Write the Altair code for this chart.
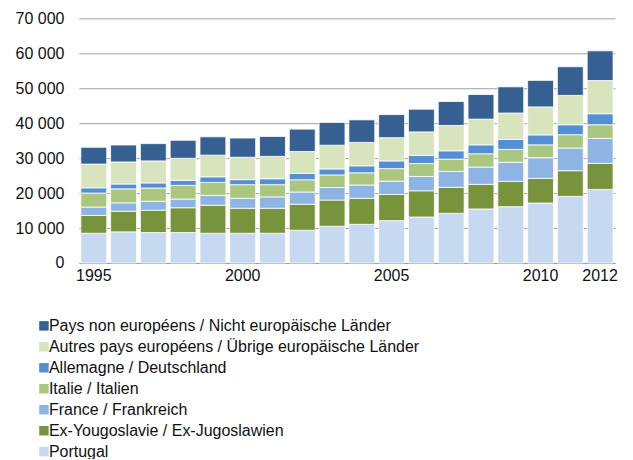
import altair as alt
import pandas as pd

years = [str(y) for y in range(1995, 2013)]
series_names = [
    "Pays non européens / Nicht europäische Länder",
    "Autres pays européens / Übrige europäische Länder",
    "Allemagne / Deutschland",
    "Italie / Italien",
    "France / Frankreich",
    "Ex-Yougoslavie / Ex-Jugoslawien",
    "Portugal",
]
colors = ["#376092", "#D7E4BD", "#558ED5", "#ABC67E", "#8EB4E3", "#77933C", "#C6D9F1"]

portugal = [8500, 8900, 8700, 8700, 8500, 8500, 8500, 9350, 10500, 11050, 12100, 13150, 14200, 15450, 16100, 17150, 19050, 21050]
ex_yougo = [5100, 5900, 6400, 7100, 8000, 7150, 7150, 7450, 7500, 7450, 7500, 7500, 7450, 7050, 7250, 7050, 7350, 7450]
france = [2400, 2400, 2550, 2500, 2850, 2850, 3250, 3500, 3600, 3800, 3800, 4100, 4550, 4950, 5450, 5900, 6500, 7150]
italie = [4000, 4000, 3800, 3900, 3700, 3900, 3500, 3500, 3600, 3500, 3600, 3700, 3500, 3800, 3700, 3700, 3800, 3900]
allemagne = [1500, 1400, 1450, 1450, 1600, 1450, 1700, 1800, 1700, 2000, 2200, 2300, 2400, 2550, 2850, 2850, 2850, 3150]
autres = [6800, 6300, 6300, 6300, 6200, 6400, 6400, 6300, 6800, 6700, 6650, 6750, 7250, 7350, 7550, 8000, 8400, 9500]
pays_non = [4800, 4850, 4950, 5150, 5250, 5500, 5700, 6400, 6500, 6450, 6600, 6500, 6850, 7050, 7500, 7600, 8200, 8500]

stack_series = [portugal, ex_yougo, france, italie, allemagne, autres, pays_non]
stack_names = list(reversed(series_names))

rows = []
for k, (name, vals) in enumerate(zip(stack_names, stack_series)):
    for y, v in zip(years, vals):
        rows.append({"year": y, "series": name, "value": v, "ord": k})
df = pd.DataFrame(rows)

font = "Liberation Sans"

chart = alt.Chart(df).mark_bar(stroke="white", strokeWidth=0.8).encode(
    x=alt.X("year:N", title=None,
            scale=alt.Scale(paddingInner=0.13, paddingOuter=0.065),
            axis=alt.Axis(values=["1995", "2000", "2005", "2010", "2012"], labelAngle=0,
                          ticks=False, domain=True, domainColor="#A0A0A0",
                          labelFontSize=16, labelPadding=5, labelColor="#111111", labelFont=font)),
    y=alt.Y("value:Q", title=None,
            scale=alt.Scale(domain=[0, 70000]),
            axis=alt.Axis(values=list(range(0, 70001, 10000)), ticks=False, domain=False,
                          grid=True, gridColor="#A0A0A0", gridWidth=1,
                          labelExpr="replace(format(datum.value, ','), ',', ' ')",
                          labelFontSize=16, labelPadding=15, labelColor="#111111", labelFont=font)),
    color=alt.Color("series:N", title=None,
                    scale=alt.Scale(domain=series_names, range=colors),
                    legend=alt.Legend(orient="none", legendX=-43, legendY=300, direction="vertical",
                                      symbolType="square", symbolSize=90, symbolStrokeWidth=0,
                                      labelFontSize=16, labelFont=font, labelColor="#111111",
                                      rowPadding=5, labelOffset=alt.ExprRef(expr="-3"),
                                      padding=0, labelLimit=600)),
    order=alt.Order("ord:Q", sort="ascending"),
).properties(
    width=537, height=245,
    autosize=alt.AutoSizeParams(type="none"),
    padding={"left": 71, "top": 10, "right": 10, "bottom": 196},
).configure_view(stroke=None)

chart.save("out.html", embed_options={"renderer": "svg", "actions": False})
